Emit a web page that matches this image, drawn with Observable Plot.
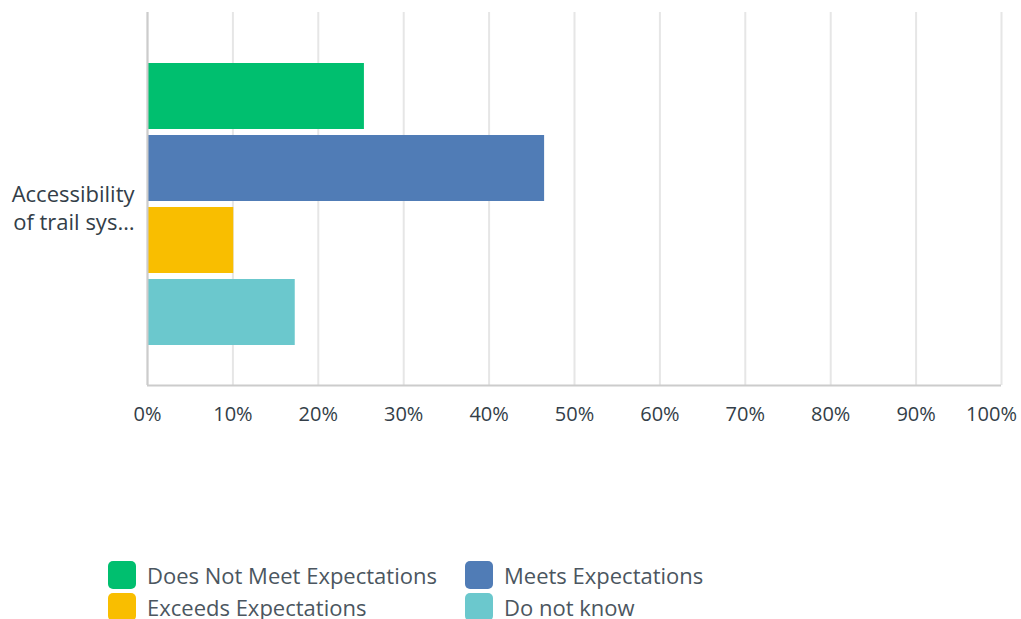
<!DOCTYPE html>
<html>
<head>
<meta charset="utf-8">
<script src="https://cdn.jsdelivr.net/npm/d3@7"></script>
<script src="https://cdn.jsdelivr.net/npm/@observablehq/plot@0.6"></script>
<style>
  body { margin: 0; background: #fff; font-family: "Open Sans", sans-serif; }
  #chart svg { display: block; }
  .legend { display: grid; grid-template-columns: 357px 300px; padding-left: 108px; padding-top: 121px; row-gap: 4px; }
  .item { display: flex; align-items: center; height: 28px; font-size: 22px; color: #4b5660; white-space: nowrap; }
  .sw { width: 28px; height: 28px; border-radius: 5px; margin-right: 11px; flex: none; }
</style>
</head>
<body>
<div id="chart"></div>
<div class="legend" id="legend"></div>
<script>
const categories = ["Accessibility of trail sys…"];
const categoryLabels = ["Accessibility\nof trail sys…"];
const series = ["Does Not Meet Expectations", "Meets Expectations", "Exceeds Expectations", "Do not know"];
const values = [25.4, 46.5, 10.1, 17.3];
const colors = ["#00bf6f", "#507cb6", "#f9be00", "#6bc8cd"];
const ticks = [0, 10, 20, 30, 40, 50, 60, 70, 80, 90, 100];

const data = series.map((s, i) => ({category: categories[0], series: s, value: values[i]}));

const W = 1021, H = 440, mT = 12, mB = 55, mL = 147, mR = 20;
const yRange = [57, 351], yPad = 0.0833;
// offset from the last band's centre to the bottom of the frame
const step = (yRange[1] - yRange[0]) / (series.length + yPad);
const lastCenter = yRange[0] + yPad * step + (series.length - 1) * step + (1 - yPad) * step / 2;
const bottomDy = (H - mB) - lastCenter;

const chart = Plot.plot({
  width: W,
  height: H,
  marginLeft: mL,
  marginRight: mR,
  marginTop: mT,
  marginBottom: mB,
  style: {fontFamily: "Open Sans, sans-serif", fontSize: "20px", color: "#333e48"},
  x: {domain: [0, 100], label: null, axis: null},
  y: {domain: series, range: yRange, padding: yPad, axis: null},
  color: {domain: series, range: colors},
  marks: [
    Plot.gridX(ticks, {stroke: "#e6e6e6", strokeOpacity: 1, strokeWidth: 2}),
    Plot.barX(data, {x: "value", y: "series", fill: "series"}),
    Plot.ruleY([series[series.length - 1]], {x1: 0, x2: 100, dy: bottomDy, stroke: "#cccccc", strokeWidth: 2}),
    Plot.ruleX([0], {stroke: "#cccccc", strokeWidth: 2}),
    Plot.axisX(ticks.slice(0, -1), {tickFormat: d => d + "%", tickSize: 0, tickPadding: 21, fontSize: 20, fill: "#333e48", label: null}),
    Plot.axisX(ticks.slice(-1), {tickFormat: d => d + "%", tickSize: 0, tickPadding: 21, fontSize: 20, fill: "#333e48", label: null, dx: -10}),
    Plot.text(categoryLabels, {text: d => d, frameAnchor: "left", textAnchor: "end", dx: -13, dy: 8, fontSize: 22, fill: "#333e48", lineHeight: 1.3})
  ]
});
document.getElementById("chart").append(chart);

const legend = document.getElementById("legend");
series.forEach((s, i) => {
  const item = document.createElement("div");
  item.className = "item";
  const sw = document.createElement("span");
  sw.className = "sw";
  sw.style.background = colors[i];
  const t = document.createElement("span");
  t.textContent = s;
  item.append(sw, t);
  legend.append(item);
});
</script>
</body>
</html>
